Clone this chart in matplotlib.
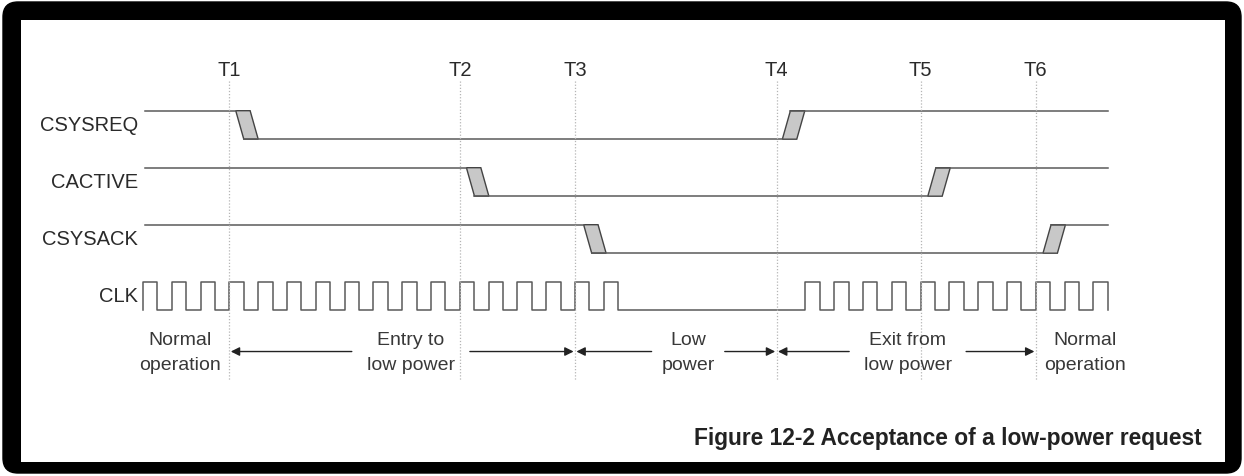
import numpy as np
import matplotlib.pyplot as plt
from matplotlib.patches import FancyBboxPatch, Rectangle, Polygon

# time is measured in clock periods, CLK rising edge 0 at the left end
signals = ['CSYSREQ', 'CACTIVE', 'CSYSACK']
# (edge time, new level) for each handshake signal, start level is high
edges = {
    'CSYSREQ': [(3.22, 0), (22.2, 1)],
    'CACTIVE': [(11.23, 0), (27.25, 1)],
    'CSYSACK': [(15.3, 0), (31.25, 1)],
}
sig_start, sig_end = 0.07, 33.5

clk_pulses = list(range(0, 17)) + list(range(23, 34))   # rising edges of CLK
clk_end = 33.5

t_names = ['T1', 'T2', 'T3', 'T4', 'T5', 'T6']
t_times = [3, 11, 15, 22, 27, 31]

phase_text = ['Normal\noperation', 'Entry to\nlow power', 'Low\npower',
              'Exit from\nlow power', 'Normal\noperation']
phase_x = [1.28, 9.3, 18.93, 26.55, 32.7]
# arrows: (from, to, text centre, half gap)
phase_arrows = [(3, 15, 9.3, 2.05), (15, 22, 18.93, 1.27), (22, 31, 26.55, 2.03)]

caption = 'Figure 12-2 Acceptance of a low-power request'

W, H = 1244, 477
px_x = 28.8     # pixels per clock period
px_y = 28.5     # pixels per signal level
x0_px, y1_px = 143, 111.7

fig = plt.figure(figsize=(W / 100, H / 100), dpi=100)
fig.patch.set_facecolor('white')
plt.rcParams['font.family'] = ['Liberation Sans', 'DejaVu Sans']

# frame
fig.patches.append(FancyBboxPatch((3 / W, 3 / H), 1238 / W, 471 / H,
                                  boxstyle='round,pad=0,rounding_size=0.012',
                                  transform=fig.transFigure, facecolor='black',
                                  edgecolor='black', mutation_aspect=W / H,
                                  zorder=-10))
fig.patches.append(Rectangle((21 / W, 14 / H), 1204 / W, 442 / H,
                             transform=fig.transFigure, facecolor='white',
                             edgecolor='none', zorder=-9))

ax = fig.add_axes([0, 0, 1, 1])
ax.set_zorder(5)
ax.set_xlim(-x0_px / px_x, (W - x0_px) / px_x)
ax.set_ylim(1 - (H - y1_px) / px_y, 1 + y1_px / px_y)
ax.axis('off')
ax.patch.set_alpha(0)

line_c = '#5a5a5a'
txt_c = '#2a2a2a'
slant, width = 0.28, 0.5

for row, name in enumerate(signals):
    base = -2 * row
    lvl = 1
    t_prev = sig_start
    for t, new in edges[name]:
        ax.plot([t_prev, t], [base + lvl, base + lvl], color=line_c, lw=1.1)
        poly = [(t, base + lvl), (t + width, base + lvl),
                (t + width + slant, base + new), (t + slant, base + new)]
        ax.add_patch(Polygon(poly, closed=True, facecolor='#c8c8c8',
                             edgecolor='#444444', lw=1.0))
        t_prev = t + slant
        lvl = new
    ax.plot([t_prev, sig_end], [base + lvl, base + lvl], color=line_c, lw=1.1)
    ax.text(-0.17, base + 0.5, name, ha='right', va='center', fontsize=14.5,
            color=txt_c)

# clock
base = -6
xs, ys = [0], [0]
for k in clk_pulses:
    xs += [k, k, k + 0.5, k + 0.5]
    ys += [0, 1, 1, 0]
xs.append(clk_end)
ys.append(0)
ax.plot(xs, np.array(ys) + base, color=line_c, lw=1.1)
ax.text(-0.17, base + 0.5, 'CLK', ha='right', va='center', fontsize=14.5,
        color=txt_c)

# time markers
for name, t in zip(t_names, t_times):
    ax.plot([t, t], [2.04, -8.49], color='#b5b5b5', lw=0.9, ls=(0, (1, 1.5)))
    ax.text(t, 2.46, name, ha='center', va='center', fontsize=14.5,
            color=txt_c)

# phases
for txt, x in zip(phase_text, phase_x):
    ax.text(x, -7.46, txt, ha='center', va='center', fontsize=14,
            color='#383838', linespacing=1.65)

arrow_y = -7.45
for a, b, c, g in phase_arrows:
    for tip, tail in [(a, c - g), (b, c + g)]:
        ax.annotate('', xy=(tip, arrow_y), xytext=(tail, arrow_y),
                    arrowprops=dict(arrowstyle='-|>', color='#222222', lw=1.0,
                                    mutation_scale=13, shrinkA=0, shrinkB=1))

ax.text(36.77, -10.48, caption, ha='right', va='center', fontsize=16.4,
        fontweight='bold', color='#222222')

fig.savefig('out.png', dpi=100, facecolor='white')
